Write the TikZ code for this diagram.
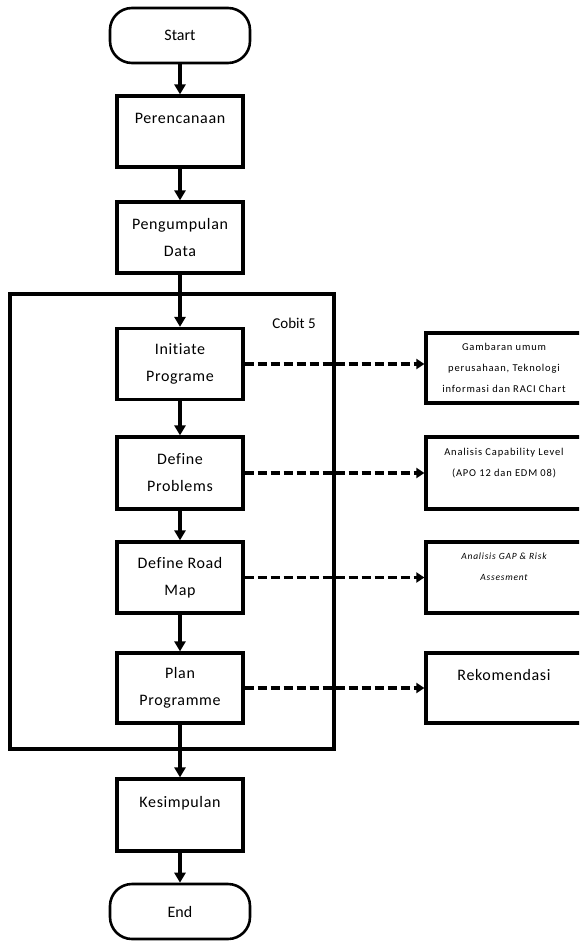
\documentclass[tikz,border=0pt]{standalone}
\usepackage{fontspec}
\setmainfont{Carlito}[Ligatures=NoCommon]
\usetikzlibrary{arrows.meta}

\begin{document}
\begin{tikzpicture}[x=1pt, y=-1pt,
    stepbox/.style={draw, line width=3.2pt, minimum width=126pt, minimum height=71pt, inner sep=0pt, align=center, font=\fontsize{16}{27}\selectfont\addfontfeatures{LetterSpace=4}},
    termbox/.style={draw, line width=2.6pt, rounded corners=22pt, minimum width=140pt, minimum height=55pt, inner sep=0pt, font=\fontsize{16}{27}\selectfont},
    outbox/.style={draw, line width=3.2pt, minimum width=156pt, minimum height=71pt, inner sep=0pt, align=center, font=\fontsize{10.5}{21}\selectfont\addfontfeatures{LetterSpace=8}},
    flow/.style={line width=3.2pt, -{Triangle[length=10pt, width=11pt]}},
    link/.style={line width=3.4pt, dash pattern=on 9pt off 4pt, -{Triangle[length=8pt, width=10pt]}}]
    \useasboundingbox (0,0) rectangle (579,941);
    \clip (0,0) rectangle (579,941);
    % main column
    \node[termbox] (start) at (180,35.5) {Start};
    \node[stepbox] (per) at (180,131.5) {Perencanaan\\ ~};
    \node[stepbox] (peng) at (180,237.5) {Pengumpulan\\Data};
    \node[stepbox] (init) at (180,364) {Initiate\\Programe};
    \node[stepbox, minimum height=72pt] (defp) at (180,473) {Define\\Problems};
    \node[stepbox] (road) at (180,577.5) {Define Road\\Map};
    \node[stepbox, minimum height=70pt] (plan) at (180,688) {Plan\\Programme};
    \node[stepbox, minimum height=72pt] (kes) at (180,815) {Kesimpulan\\ ~};
    \node[termbox] (end) at (180,911.5) {End};
    % cobit 5 frame
    \draw[line width=3.2pt] (10,294) rectangle (334,749);
    \node[font=\fontsize{15}{20}\selectfont] (cobit) at (294,323) {Cobit 5};
    % outputs
    \node[outbox, minimum height=70pt] (gamb) at (504,368) {Gambaran umum\\perusahaan, Teknologi\\informasi dan RACI Chart};
    \node[outbox, minimum height=72pt] (capa) at (504,473) {Analisis Capability Level\\(APO 12 dan EDM 08)\\ ~};
    \node[outbox, font=\fontsize{9.5}{21}\selectfont\itshape\addfontfeatures{LetterSpace=8}] (gap) at (504,577.5) {Analisis GAP \& Risk\\Assesment\\ ~};
    \node[outbox, minimum height=70pt, font=\fontsize{16}{27}\selectfont\addfontfeatures{LetterSpace=4}] (rek) at (504,688) {Rekomendasi\\ ~};
    % arrows
    \draw[flow] (start) -- (per);
    \draw[flow] (per) -- (peng);
    \draw[flow] (peng) -- (init);
    \draw[flow] (init) -- (defp);
    \draw[flow] (defp) -- (road);
    \draw[flow] (road) -- (plan);
    \draw[flow] (plan) -- (kes);
    \draw[flow] (kes) -- (end);
    \draw[link] (init.east) -- (init.east -| gamb.west);
    \draw[link] (defp.east) -- (defp.east -| capa.west);
    \draw[link] (road.east) -- (road.east -| gap.west);
    \draw[link] (plan.east) -- (plan.east -| rek.west);
\end{tikzpicture}
\end{document}
